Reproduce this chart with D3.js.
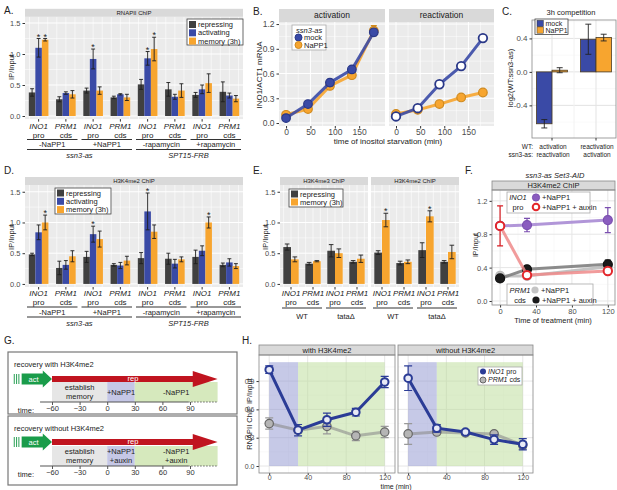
<!DOCTYPE html>
<html>
<head>
<meta charset="utf-8">
<script src="https://cdn.jsdelivr.net/npm/d3@7"></script>
<style>
  body { margin: 0; background: #fff; }
  text { font-family: "Liberation Sans", Arial, sans-serif; }
</style>
</head>
<body>
<script>
// ---------------- data ----------------
const genes = ["INO1", "PRM1", "INO1", "PRM1", "INO1", "PRM1", "INO1", "PRM1"];
const regions = ["pro", "cds", "pro", "cds", "pro", "cds", "pro", "cds"];
const seriesNames = ["repressing", "activating", "memory (3h)"];
const adConditions = ["-NaPP1", "+NaPP1", "-rapamycin", "+rapamycin"];
const adStrains = ["ssn3-as", "SPT15-FRB"];

// A. RNAPII ChIP
const aRep = [0.38, 0.27, 0.41, 0.30, 0.51, 0.43, 0.34, 0.39];
const aRepErr = [0.06, 0.04, 0.04, 0.02, 0.08, 0.11, 0.04, 0.16];
const aAct = [1.10, 0.37, 0.92, 0.35, 0.93, 0.31, 0.43, 0.33];
const aActErr = [0.15, 0.02, 0.16, 0.01, 0.11, 0.04, 0.07, 0.04];
const aMem = [1.23, 0.35, 0.41, 0.30, 1.08, 0.41, 0.53, 0.28];
const aMemErr = [0.02, 0.06, 0.06, 0.05, 0.19, 0.11, 0.15, 0.05];
const aActStar = [1, 0, 1, 0, 1, 0, 0, 0];
const aMemStar = [1, 0, 0, 0, 1, 0, 0, 0];

// B. INO1 mRNA
const bFacets = ["activation", "reactivation"];
const bTime = [0, 45, 90, 135, 180];
const bActMock = [0.06, 0.23, 0.49, 0.65, 1.10];
const bActMockErr = [0.01, 0.02, 0.04, 0.03, 0.04];
const bActNapp = [0.10, 0.17, 0.45, 0.58, 1.12];
const bActNappErr = [0.02, 0.02, 0.03, 0.02, 0.06];
const bReaMock = [0.08, 0.18, 0.47, 0.69, 1.03];
const bReaMockErr = [0.01, 0.02, 0.02, 0.02, 0.03];
const bReaNapp = [0.11, 0.16, 0.23, 0.31, 0.37];
const bReaNappErr = [0.01, 0.01, 0.02, 0.02, 0.02];

// C. 3h competition
const cWT = ["activation", "reactivation"];
const cSsn = ["reactivation", "activation"];
const cMock = [-0.62, 0.39];
const cMockErr = [0.05, 0.18];
const cNapp = [0.02, 0.41];
const cNappErr = [0.03, 0.04];

// D. H3K4me2 ChIP
const dRep = [0.48, 0.26, 0.44, 0.31, 0.42, 0.41, 0.44, 0.31];
const dRepErr = [0.02, 0.11, 0.09, 0.02, 0.09, 0.09, 0.11, 0.03];
const dAct = [0.84, 0.31, 0.81, 0.30, 1.18, 0.33, 0.54, 0.35];
const dActErr = [0.12, 0.07, 0.13, 0.05, 0.30, 0.07, 0.08, 0.06];
const dMem = [1.00, 0.45, 0.73, 0.38, 0.85, 0.40, 1.00, 0.29];
const dMemErr = [0.12, 0.09, 0.13, 0.07, 0.11, 0.04, 0.09, 0.04];
const dActStar = [0, 0, 1, 0, 1, 0, 0, 0];
const dMemStar = [1, 0, 0, 0, 0, 0, 1, 0];

// E. H3K4me3 / H3K4me2, WT vs tata
const eFacets = ["H3K4me3 ChIP", "H3K4me2 ChIP"];
const eStrains = ["WT", "tataΔ"];
const e3Rep = [0.60, 0.33, 0.54, 0.36];
const e3RepErr = [0.05, 0.02, 0.10, 0.02];
const e3Mem = [0.40, 0.37, 0.50, 0.41];
const e3MemErr = [0.04, 0.01, 0.07, 0.06];
const e2Rep = [0.51, 0.34, 0.55, 0.36];
const e2RepErr = [0.03, 0.03, 0.12, 0.02];
const e2Mem = [1.04, 0.36, 1.10, 0.52];
const e2MemErr = [0.11, 0.03, 0.09, 0.11];
const e2MemStar = [1, 0, 1, 0];

// F. Set3-AID
const fTime = [0, 30, 120];
const fInoNapp = [0.90, 0.91, 0.97];
const fInoNappErr = [0.02, 0.08, 0.15];
const fInoAux = [0.90, 0.31, 0.36];
const fInoAuxErr = [0.24, 0.02, 0.02];
const fPrmNapp = [0.30, 0.30, 0.41];
const fPrmNappErr = [0.02, 0.02, 0.03];
const fPrmAux = [0.27, 0.38, 0.44];
const fPrmAuxErr = [0.03, 0.02, 0.05];

// G. schematic
const gTicks = [-60, -30, 0, 30, 60, 90];
const gPhaseStart = [-60, 0, 30];
const gPhaseEnd = [0, 30, 120];
const gLabelsWith = [["establish", "memory"], ["+NaPP1"], ["-NaPP1"]];
const gLabelsWithout = [["establish", "memory"], ["+NaPP1", "+auxin"], ["-NaPP1", "+auxin"]];

// H. recovery
const hFacets = ["with H3K4me2", "without H3K4me2"];
const hTime = [0, 30, 60, 90, 120];
const hWithIno = [1.02, 0.38, 0.49, 0.57, 0.89];
const hWithInoErr = [0.04, 0.06, 0.07, 0.04, 0.06];
const hWithPrm = [0.45, 0.38, 0.42, 0.32, 0.36];
const hWithPrmErr = [0.06, 0.03, 0.08, 0.05, 0.06];
const hWithoutIno = [0.93, 0.40, 0.36, 0.28, 0.23];
const hWithoutInoErr = [0.13, 0.04, 0.02, 0.05, 0.06];
const hWithoutPrm = [0.34, 0.36, 0.35, 0.34, 0.22];
const hWithoutPrmErr = [0.11, 0.02, 0.02, 0.02, 0.04];

// ---------------- setup ----------------
const DARK = "#404040", BLUE = "#3a4aa6", ORANGE = "#f7a52f";
const svg = d3.select("body").append("svg").attr("width", 617).attr("height", 490);

function t(g, x, y, s, o = {}) {
  return g.append("text").attr("x", x).attr("y", y).attr("dy", "0.35em")
    .attr("text-anchor", o.anchor || "middle")
    .attr("font-size", o.size || 8)
    .attr("fill", o.fill || "#222")
    .attr("font-style", o.italic ? "italic" : null)
    .attr("transform", o.rotate ? `rotate(-90,${x},${y})` : null)
    .text(s);
}

function styleAxis(ax, size) {
  ax.select(".domain").remove();
  ax.selectAll("line").attr("stroke", "#333");
  ax.selectAll("text").attr("font-size", size || 7.5).attr("fill", "#4d4d4d")
    .attr("font-family", "Liberation Sans, Arial, sans-serif");
}

// grouped bar panel (grey ggplot theme)
function barPanel(p) {
  const g = svg.append("g");
  const x = d3.scaleBand().domain(d3.range(p.n)).range(p.xr);
  const y = d3.scaleLinear().domain(p.yd).range(p.yr);
  const top = p.yr[1], bot = p.yr[0], step = x.step();
  g.append("rect").attr("x", p.xr[0]).attr("y", top).attr("width", p.xr[1] - p.xr[0])
    .attr("height", bot - top).attr("fill", "#ebebeb");
  g.selectAll(null).data(p.minor).join("line")
    .attr("x1", p.xr[0]).attr("x2", p.xr[1]).attr("y1", y).attr("y2", y)
    .attr("stroke", "#fff").attr("stroke-width", 0.5);
  g.selectAll(null).data(p.major).join("line")
    .attr("x1", p.xr[0]).attr("x2", p.xr[1]).attr("y1", y).attr("y2", y)
    .attr("stroke", "#fff").attr("stroke-width", 1);
  g.selectAll(null).data(d3.range(p.n * 3)).join("line")
    .attr("x1", k => p.xr[0] + (k + 0.5) * step / 3).attr("x2", k => p.xr[0] + (k + 0.5) * step / 3)
    .attr("y1", top).attr("y2", bot).attr("stroke", "#fff").attr("stroke-width", 0.6);
  // strip
  g.append("rect").attr("x", p.xr[0]).attr("y", top - p.stripH).attr("width", p.xr[1] - p.xr[0])
    .attr("height", p.stripH).attr("fill", "#d9d9d9");
  t(g, (p.xr[0] + p.xr[1]) / 2, top - p.stripH / 2, p.strip, { size: p.stripSize || 6, fill: "#1a1a1a" });

  const gw = step * p.gw;
  const sub = d3.scaleBand().domain(d3.range(p.series.length)).range([-gw / 2, gw / 2]);
  const bw = sub.bandwidth();
  p.series.forEach((s, si) => {
    const cx = i => x(i) + step / 2 + sub(si) + bw / 2;
    g.selectAll(null).data(s.vals).join("rect")
      .attr("x", (d, i) => cx(i) - bw / 2).attr("width", bw)
      .attr("y", d => y(d)).attr("height", d => y(0) - y(d)).attr("fill", s.color);
    const eb = g.selectAll(null).data(s.vals).join("g");
    eb.append("line").attr("x1", (d, i) => cx(i)).attr("x2", (d, i) => cx(i))
      .attr("y1", (d, i) => y(d - s.errs[i])).attr("y2", (d, i) => y(d + s.errs[i]));
    eb.append("line").attr("x1", (d, i) => cx(i) - bw * 0.3).attr("x2", (d, i) => cx(i) + bw * 0.3)
      .attr("y1", (d, i) => y(d - s.errs[i])).attr("y2", (d, i) => y(d - s.errs[i]));
    eb.append("line").attr("x1", (d, i) => cx(i) - bw * 0.3).attr("x2", (d, i) => cx(i) + bw * 0.3)
      .attr("y1", (d, i) => y(d + s.errs[i])).attr("y2", (d, i) => y(d + s.errs[i]));
    eb.selectAll("line").attr("stroke", "#1e1e1e").attr("stroke-width", 0.9);
    if (s.stars) {
      const starIdx = d3.range(s.vals.length).filter(i => s.stars[i]);
      g.selectAll(null).data(starIdx).join("text")
        .attr("x", i => cx(i)).attr("y", i => y(s.vals[i] + s.errs[i]) + 1)
        .attr("text-anchor", "middle").attr("font-size", 9).attr("fill", "#222").text("*");
    }
  });
  if (p.yaxis) {
    const ax = g.append("g").attr("transform", `translate(${p.xr[0]},0)`)
      .call(d3.axisLeft(y).tickValues(p.major).tickFormat(d => d.toFixed(1)).tickSize(2.5).tickPadding(2));
    styleAxis(ax, 7.5);
  }
  // x tick marks + gene / region labels
  g.selectAll(null).data(d3.range(p.n)).join("line")
    .attr("x1", i => x(i) + step / 2).attr("x2", i => x(i) + step / 2)
    .attr("y1", bot).attr("y2", bot + 2.5).attr("stroke", "#333");
  p.genes.forEach((gn, i) => {
    t(g, x(i) + step / 2, p.labY, gn, { italic: true, size: 8 });
    t(g, x(i) + step / 2, p.labY + 9.5, p.regions[i], { size: 8 });
  });
  return { g, x, step };
}

function groupLine(g, xa, xb, yLine, yText, label, italic) {
  g.append("line").attr("x1", xa).attr("x2", xb).attr("y1", yLine).attr("y2", yLine)
    .attr("stroke", "#333").attr("stroke-width", 1);
  t(g, (xa + xb) / 2, yText, label, { italic, size: 7.5 });
}

function adLabels(res, base) {
  const { g, x, step } = res;
  adConditions.forEach((c, k) => {
    groupLine(g, x(2 * k) + 2, x(2 * k + 1) + step - 2, base, base + 5, c, false);
  });
  adStrains.forEach((s, k) => {
    groupLine(g, x(4 * k) + 2, x(4 * k + 3) + step - 2, base + 10, base + 16, s, true);
  });
}

function legendBox(g, x, y, w, h, stroke) {
  g.append("rect").attr("x", x).attr("y", y).attr("width", w).attr("height", h)
    .attr("fill", "#fff").attr("stroke", stroke || "#555").attr("stroke-width", 0.8);
}

// ---------------- A ----------------
t(svg, 4, 10, "A.", { anchor: "start", size: 10 });
const resA = barPanel({
  n: 8, xr: [25, 243], yd: [-0.05, 1.6], yr: [119.1, 16.8],
  major: [0, 0.5, 1, 1.5], minor: [0.25, 0.75, 1.25], stripH: 8, strip: "RNAPII ChIP",
  gw: 0.72, yaxis: true, labY: 126, genes, regions,
  series: [
    { vals: aRep, errs: aRepErr, color: DARK },
    { vals: aAct, errs: aActErr, color: BLUE, stars: aActStar },
    { vals: aMem, errs: aMemErr, color: ORANGE, stars: aMemStar }
  ]
});
adLabels(resA, 139.5);
t(svg, 11, 67, "IP/Input", { rotate: true, size: 7.5 });
{
  const g = svg.append("g");
  legendBox(g, 187, 19, 56, 26, "#444");
  seriesNames.forEach((s, i) => {
    g.append("rect").attr("x", 189).attr("y", 21 + i * 8.3).attr("width", 7).attr("height", 7)
      .attr("fill", [DARK, BLUE, ORANGE][i]);
    t(g, 198, 24.5 + i * 8.3, s, { anchor: "start", size: 7.5 });
  });
}

// ---------------- B ----------------
function linePanel(p) {
  const g = svg.append("g");
  const x = d3.scaleLinear().domain(p.xd).range(p.xr);
  const y = d3.scaleLinear().domain(p.yd).range(p.yr);
  const grey = p.theme === "grey";
  const top = p.yr[1], bot = p.yr[0];
  g.append("rect").attr("x", p.xr[0]).attr("y", top).attr("width", p.xr[1] - p.xr[0])
    .attr("height", bot - top).attr("fill", grey ? "#ebebeb" : "#fff");
  const gc = grey ? "#fff" : "#e6e6e6", gm = grey ? "#fff" : "#f2f2f2";
  g.selectAll(null).data(p.yMinor).join("line").attr("x1", p.xr[0]).attr("x2", p.xr[1])
    .attr("y1", y).attr("y2", y).attr("stroke", gm).attr("stroke-width", 0.5);
  g.selectAll(null).data(p.xMinor).join("line").attr("y1", top).attr("y2", bot)
    .attr("x1", x).attr("x2", x).attr("stroke", gm).attr("stroke-width", 0.5);
  g.selectAll(null).data(p.yMajor).join("line").attr("x1", p.xr[0]).attr("x2", p.xr[1])
    .attr("y1", y).attr("y2", y).attr("stroke", gc).attr("stroke-width", 1);
  g.selectAll(null).data(p.xMajor).join("line").attr("y1", top).attr("y2", bot)
    .attr("x1", x).attr("x2", x).attr("stroke", gc).attr("stroke-width", 1);
  if (p.strip) {
    g.append("rect").attr("x", p.xr[0]).attr("y", top - p.stripH).attr("width", p.xr[1] - p.xr[0])
      .attr("height", p.stripH).attr("fill", "#d9d9d9")
      .attr("stroke", grey ? "none" : "#888").attr("stroke-width", 0.8);
    t(g, (p.xr[0] + p.xr[1]) / 2, top - p.stripH / 2, p.strip, { size: p.stripSize || 8, fill: "#1a1a1a" });
  }
  const ax = g.append("g").attr("transform", `translate(0,${bot})`)
    .call(d3.axisBottom(x).tickValues(p.xMajor).tickSize(p.xTick || 2.5).tickPadding(p.xPad == null ? 1.5 : p.xPad));
  styleAxis(ax, p.tickSize || 8);
  if (p.yaxis) {
    const ay = g.append("g").attr("transform", `translate(${p.xr[0]},0)`)
      .call(d3.axisLeft(y).tickValues(p.yMajor).tickFormat(d => d.toFixed(1)).tickSize(2.5).tickPadding(2));
    styleAxis(ay, p.tickSize || 8);
  }
  const layer = g.append("g");
  if (!grey) {
    g.append("rect").attr("x", p.xr[0]).attr("y", top).attr("width", p.xr[1] - p.xr[0])
      .attr("height", bot - top).attr("fill", "none").attr("stroke", "#888").attr("stroke-width", 0.8);
  }
  return { g: layer, x, y };
}

function drawSeries(P, xs, ys, es, s) {
  const { g, x, y } = P;
  const pts = xs.map((d, i) => [x(d), y(ys[i])]);
  g.append("path").attr("d", d3.line()(pts)).attr("fill", "none")
    .attr("stroke", s.line).attr("stroke-width", s.lw || 3).attr("stroke-opacity", s.lo || 1)
    .attr("stroke-linejoin", "round");
  const cw = s.cap || 3;
  xs.forEach((d, i) => {
    const xa = x(d), y1 = y(ys[i] - es[i]), y2 = y(ys[i] + es[i]);
    g.append("path").attr("d", `M${xa},${y1}V${y2}M${xa - cw},${y1}H${xa + cw}M${xa - cw},${y2}H${xa + cw}`)
      .attr("stroke", s.err || s.stroke).attr("stroke-width", 1.2).attr("fill", "none");
  });
  g.selectAll(null).data(pts).join("circle").attr("cx", d => d[0]).attr("cy", d => d[1])
    .attr("r", s.r || 4).attr("fill", s.fill).attr("stroke", s.stroke).attr("stroke-width", s.sw || 1.2);
}

t(svg, 253, 11, "B.", { anchor: "start", size: 10 });
const bX = [[279, 385], [389, 494]];
const bData = [[bActMock, bActMockErr, bActNapp, bActNappErr], [bReaMock, bReaMockErr, bReaNapp, bReaNappErr]];
bFacets.forEach((f, k) => {
  const P = linePanel({
    theme: "grey", xr: bX[k], yr: [126, 22], xd: [-14.5, 203], yd: [-0.036, 1.225],
    xMajor: [0, 50, 100, 150], xMinor: [25, 75, 125, 175],
    yMajor: [0, 0.3, 0.6, 0.9, 1.2], yMinor: [0.15, 0.45, 0.75, 1.05],
    strip: f, stripH: 13, stripSize: 8.5, yaxis: k === 0, tickSize: 8.5, xPad: 0.5
  });
  const [m, me, n, ne] = bData[k];
  drawSeries(P, bTime, n, ne, { line: ORANGE, stroke: "#d08a1e", fill: ORANGE, lo: 0.9, r: 4.3 });
  drawSeries(P, bTime, m, me, { line: BLUE, stroke: "#2a3888", fill: k === 0 ? BLUE : "#fff", lo: 0.9, sw: k === 0 ? 1.2 : 1.8, r: 4.3 });
});
t(svg, 259, 75, "INO1/ACT1 mRNA", { rotate: true, size: 8 });
t(svg, 388, 141.5, "time of inositol starvation (min)", { size: 8 });
{
  const g = svg.append("g");
  legendBox(g, 292, 25, 34, 25, "#aaa");
  t(g, 296, 30, "ssn3-as", { anchor: "start", italic: true, size: 7.5 });
  [[BLUE, "#2a3888", "mock"], [ORANGE, "#d08a1e", "NaPP1"]].forEach((d, i) => {
    g.append("circle").attr("cx", 298.5).attr("cy", 37.5 + i * 7.5).attr("r", 3.5)
      .attr("fill", d[0]).attr("stroke", d[1]);
    t(g, 304, 37.5 + i * 7.5, d[2], { anchor: "start", size: 7.5 });
  });
}

// ---------------- C ----------------
t(svg, 502, 11, "C.", { anchor: "start", size: 10 });
{
  const g = svg.append("g");
  const x = d3.scaleBand().domain([0, 1]).range([530, 618]);
  const y = d3.scaleLinear().domain([-0.79, 0.62]).range([138, 20]);
  const xl = 532, xr = 616, yt = 20;
  g.append("rect").attr("x", xl).attr("y", yt).attr("width", xr - xl).attr("height", 138 - yt).attr("fill", "#fff");
  [-0.6, -0.2, 0.2, 0.6].forEach(v => g.append("line").attr("x1", xl).attr("x2", xr)
    .attr("y1", y(v)).attr("y2", y(v)).attr("stroke", "#f2f2f2").attr("stroke-width", 0.5));
  [-0.4, 0, 0.4].forEach(v => g.append("line").attr("x1", xl).attr("x2", xr)
    .attr("y1", y(v)).attr("y2", y(v)).attr("stroke", "#e3e3e3"));
  [0, 1].forEach(i => g.append("line").attr("x1", x(i) + x.step() / 2).attr("x2", x(i) + x.step() / 2)
    .attr("y1", yt).attr("y2", 138).attr("stroke", "#e3e3e3"));
  g.append("line").attr("x1", x(1)).attr("x2", x(1)).attr("y1", yt).attr("y2", 138).attr("stroke", "#f2f2f2");
  const gw = x.step() * 0.7;
  const sub = d3.scaleBand().domain([0, 1]).range([-gw / 2, gw / 2]);
  const bw = sub.bandwidth();
  [[cMock, cMockErr, BLUE], [cNapp, cNappErr, ORANGE]].forEach(([vals, errs, col], si) => {
    const cx = i => x(i) + x.step() / 2 + sub(si) + bw / 2;
    g.selectAll(null).data(vals).join("rect")
      .attr("x", (d, i) => cx(i) - bw / 2).attr("width", bw)
      .attr("y", d => y(Math.max(0, d))).attr("height", d => Math.abs(y(d) - y(0)))
      .attr("fill", col).attr("stroke", "#4a3a20").attr("stroke-width", 0.8);
    vals.forEach((d, i) => {
      const y1 = y(d - errs[i]), y2 = y(d + errs[i]), c = cx(i);
      g.append("path").attr("d", `M${c},${y1}V${y2}M${c - 3},${y1}H${c + 3}M${c - 3},${y2}H${c + 3}`)
        .attr("stroke", "#222").attr("stroke-width", 0.9).attr("fill", "none");
    });
  });
  g.append("rect").attr("x", xl).attr("y", yt).attr("width", xr - xl).attr("height", 138 - yt)
    .attr("fill", "none").attr("stroke", "#888").attr("stroke-width", 0.8);
  const ay = g.append("g").attr("transform", `translate(${xl},0)`)
    .call(d3.axisLeft(y).tickValues([-0.4, 0, 0.4]).tickFormat(d => d.toFixed(1)).tickSize(2.5).tickPadding(2));
  styleAxis(ay, 8);
  [0, 1].forEach(i => {
    const c = x(i) + x.step() / 2;
    g.append("line").attr("x1", c).attr("x2", c).attr("y1", 138).attr("y2", 140.5).attr("stroke", "#333");
    t(g, c + 1, 146.5, cWT[i], { size: 6.5 });
    t(g, c + 1, 155, cSsn[i], { size: 6.5 });
  });
  t(g, 533, 146.5, "WT:", { anchor: "end", size: 6.5 });
  t(g, 533, 155, "ssn3-as:", { anchor: "end", size: 6.5 });
  t(g, 571, 12, "3h competition", { size: 7.5 });
  t(g, 510, 78, "log2(WT:ssn3-as)", { rotate: true, size: 7.5 });
  legendBox(g, 535, 19, 33, 15.5, "#444");
  [[BLUE, "mock"], [ORANGE, "NaPP1"]].forEach((d, i) => {
    g.append("rect").attr("x", 537).attr("y", 20.3 + i * 6.6).attr("width", 6.3).attr("height", 6.3)
      .attr("fill", d[0]).attr("stroke", "#333").attr("stroke-width", 0.5);
    t(g, 545.5, 23.5 + i * 6.6, d[1], { anchor: "start", size: 7 });
  });
}

// ---------------- D ----------------
t(svg, 4, 170, "D.", { anchor: "start", size: 10 });
const resD = barPanel({
  n: 8, xr: [25, 243], yd: [-0.05, 1.61], yr: [287, 185],
  major: [0, 0.5, 1, 1.5], minor: [0.25, 0.75, 1.25], stripH: 8, strip: "H3K4me2 ChIP",
  gw: 0.72, yaxis: true, labY: 293, genes, regions,
  series: [
    { vals: dRep, errs: dRepErr, color: DARK },
    { vals: dAct, errs: dActErr, color: BLUE, stars: dActStar },
    { vals: dMem, errs: dMemErr, color: ORANGE, stars: dMemStar }
  ]
});
adLabels(resD, 307);
t(svg, 11, 237, "IP/Input", { rotate: true, size: 7.5 });
{
  const g = svg.append("g");
  legendBox(g, 55, 188, 56, 26, "#444");
  seriesNames.forEach((s, i) => {
    g.append("rect").attr("x", 57).attr("y", 189.5 + i * 8.3).attr("width", 7).attr("height", 7)
      .attr("fill", [DARK, BLUE, ORANGE][i]);
    t(g, 66, 193 + i * 8.3, s, { anchor: "start", size: 7.5 });
  });
}

// ---------------- E ----------------
t(svg, 253, 170, "E.", { anchor: "start", size: 10 });
const eX = [[280, 368], [371, 459]];
const eData = [[e3Rep, e3RepErr, e3Mem, e3MemErr, null], [e2Rep, e2RepErr, e2Mem, e2MemErr, e2MemStar]];
eFacets.forEach((f, k) => {
  const [r, re, m, me, ms] = eData[k];
  const res = barPanel({
    n: 4, xr: eX[k], yd: [-0.05, 1.61], yr: [287, 185],
    major: [0, 0.5, 1, 1.5], minor: [0.25, 0.75, 1.25], stripH: 8, strip: f,
    gw: 0.7, yaxis: k === 0, labY: 293, genes: genes.slice(0, 4), regions: regions.slice(0, 4),
    series: [
      { vals: r, errs: re, color: DARK },
      { vals: m, errs: me, color: ORANGE, stars: ms }
    ]
  });
  eStrains.forEach((s, j) => {
    groupLine(res.g, res.x(2 * j) + 2, res.x(2 * j + 1) + res.step - 2, 308, 316, s, false);
  });
});
t(svg, 265, 237, "IP/Input", { rotate: true, size: 7.5 });
{
  const g = svg.append("g");
  legendBox(g, 289, 189, 54, 18, "#444");
  [[DARK, "repressing"], [ORANGE, "memory (3h)"]].forEach((d, i) => {
    g.append("rect").attr("x", 291).attr("y", 190.5 + i * 8).attr("width", 7).attr("height", 7).attr("fill", d[0]);
    t(g, 300, 194 + i * 8, d[1], { anchor: "start", size: 7.5 });
  });
}

// ---------------- F ----------------
t(svg, 465, 170, "F.", { anchor: "start", size: 10 });
t(svg, 555, 175, "ssn3-as Set3-AID", { italic: true, size: 7.5 });
{
  const P = linePanel({
    theme: "white", xr: [492, 615], yr: [305, 190], xd: [-9, 128], yd: [-0.048, 1.33],
    xMajor: [0, 40, 80, 120], xMinor: [20, 60, 100],
    yMajor: [0, 0.4, 0.8, 1.2], yMinor: [0.2, 0.6, 1.0],
    strip: "H3K4me2 ChIP", stripH: 9, stripSize: 7.5, yaxis: true, tickSize: 7.5
  });
  drawSeries(P, fTime, fPrmNapp, fPrmNappErr, { line: "#bdbdbd", stroke: "#bbb", fill: "#c4c4c4", r: 4.5, lo: 0.9 });
  drawSeries(P, fTime, fPrmAux, fPrmAuxErr, { line: "#808080", stroke: "#111", fill: "#1a1a1a", r: 4.5, lo: 0.9 });
  drawSeries(P, fTime, fInoNapp, fInoNappErr, { line: "#a98bd4", stroke: "#7b4fb0", fill: "#8a5cbf", r: 4.5, lo: 0.9 });
  drawSeries(P, fTime, fInoAux, fInoAuxErr, { line: "#ee8a8a", stroke: "#e3262b", fill: "#fff", err: "#d81e24", r: 4.2, sw: 2, lo: 0.85 });
}
t(svg, 476, 245, "IP/Input", { rotate: true, size: 7 });
t(svg, 553, 320, "Time of treatment (min)", { size: 7.5 });
{
  const g = svg.append("g");
  legendBox(g, 507, 192, 83, 21, "#aaa");
  t(g, 518, 197.5, "INO1", { italic: true, size: 7.5 });
  t(g, 518, 207, "pro", { size: 7.5 });
  g.append("circle").attr("cx", 536).attr("cy", 197.5).attr("r", 3.6).attr("fill", "#8a5cbf").attr("stroke", "#7b4fb0");
  g.append("circle").attr("cx", 536).attr("cy", 207).attr("r", 3.3).attr("fill", "#fff").attr("stroke", "#e3262b").attr("stroke-width", 2);
  t(g, 542, 197.5, "+NaPP1", { anchor: "start", size: 7.5 });
  t(g, 542, 207, "+NaPP1 + auxin", { anchor: "start", size: 7.5 });
  legendBox(g, 507, 284, 86, 21, "#aaa");
  t(g, 520, 290, "PRM1", { italic: true, size: 7.5 });
  t(g, 520, 300, "cds", { size: 7.5 });
  g.append("circle").attr("cx", 535).attr("cy", 290).attr("r", 3.6).attr("fill", "#c4c4c4");
  g.append("circle").attr("cx", 536).attr("cy", 300).attr("r", 3.6).attr("fill", "#1a1a1a");
  t(g, 541, 290, "+NaPP1", { anchor: "start", size: 7.5 });
  t(g, 542, 300, "+NaPP1 + auxin", { anchor: "start", size: 7.5 });
}

// ---------------- G ----------------
t(svg, 4, 340, "G.", { anchor: "start", size: 10 });
{
  const gx = d3.scaleLinear().domain([-60, 90]).range([52, 190]);
  const boxes = [
    { top: 352, bottom: 414, title: "recovery with H3K4me2", arrowY: 379, rectTop: 382, labels: gLabelsWith },
    { top: 416, bottom: 485, title: "recovery without H3K4me2", arrowY: 442, rectTop: 446, labels: gLabelsWithout }
  ];
  const phaseColors = ["#e6e6e6", "#c5c7e6", "#d6e9bd"];
  boxes.forEach(b => {
    const g = svg.append("g");
    const axisY = b.rectTop + 20;
    g.append("rect").attr("x", 8).attr("y", b.top).attr("width", 229).attr("height", b.bottom - b.top)
      .attr("fill", "#fff").attr("stroke", "#777").attr("stroke-width", 1.2);
    t(g, 14, b.top + 12, b.title, { anchor: "start", size: 7.5 });
    gPhaseStart.forEach((s, i) => {
      g.append("rect").attr("x", gx(s)).attr("y", b.rectTop).attr("width", gx(gPhaseEnd[i]) - gx(s))
        .attr("height", axisY - b.rectTop).attr("fill", phaseColors[i]);
      const lab = b.labels[i];
      const cx = (gx(s) + gx(gPhaseEnd[i])) / 2;
      lab.forEach((l, j) => t(g, cx, b.rectTop + 10 - (lab.length - 1) * 4.3 + j * 8.6, l, { size: 7.5 }));
    });
    // act arrow with dashes
    const ay = b.arrowY;
    [-101, -98.5, -96].forEach(v => g.append("line").attr("x1", gx(v)).attr("x2", gx(v))
      .attr("y1", ay - 5).attr("y2", ay + 5).attr("stroke", "#2aa155").attr("stroke-width", 1));
    g.append("path").attr("d", `M${gx(-93)},${ay - 5.5}H${gx(-70)}V${ay - 8.5}L${gx(-60)},${ay}L${gx(-70)},${ay + 8.5}V${ay + 5.5}H${gx(-93)}Z`)
      .attr("fill", "#1a9c4a");
    t(g, gx(-80), ay, "act", { size: 7.5, fill: "#fff" });
    // rep arrow
    g.append("path").attr("d", `M${gx(-60)},${ay - 3}H${gx(93)}V${ay - 8}L${gx(120)},${ay}L${gx(93)},${ay + 8}V${ay + 3}H${gx(-60)}Z`)
      .attr("fill", "#c0141f");
    t(g, gx(28), ay - 0.5, "rep", { size: 7.5, fill: "#fff" });
    // time axis
    g.append("line").attr("x1", gx(-73)).attr("x2", gx(88)).attr("y1", axisY).attr("y2", axisY)
      .attr("stroke", "#555").attr("stroke-width", 1.2);
    g.append("line").attr("x1", gx(88)).attr("x2", gx(120)).attr("y1", axisY).attr("y2", axisY)
      .attr("stroke", "#666").attr("stroke-width", 1.2).attr("stroke-dasharray", "1.5,1.5");
    const ax = g.append("g").attr("transform", `translate(0,${axisY})`)
      .call(d3.axisBottom(gx).tickValues(gTicks).tickSize(3).tickPadding(1));
    ax.select(".domain").remove();
    ax.selectAll("line").attr("stroke", "#555");
    ax.selectAll("text").attr("font-size", 7.5).attr("fill", "#333");
    t(g, 26, axisY + 8, "time:", { size: 7.5 });
  });
}

// ---------------- H ----------------
t(svg, 242, 340, "H.", { anchor: "start", size: 10 });
{
  const hX = [[259, 395], [398, 533]];
  const hData = [[hWithIno, hWithInoErr, hWithPrm, hWithPrmErr], [hWithoutIno, hWithoutInoErr, hWithoutPrm, hWithoutPrmErr]];
  hFacets.forEach((f, k) => {
    const P = linePanel({
      theme: "white", xr: hX[k], yr: [473, 355], xd: [-10.6, 130.7], yd: [-0.074, 1.176],
      xMajor: [0, 40, 80, 120], xMinor: [20, 60, 100],
      yMajor: [0, 0.3, 0.6, 0.9], yMinor: [0.15, 0.45, 0.75, 1.05],
      strip: f, stripH: 10, stripSize: 7.5, yaxis: k === 0, tickSize: 7, xPad: 0, xTick: 2
    });
    const { g, x, y } = P;
    g.append("rect").attr("x", x(0)).attr("y", y(1.1)).attr("width", x(30) - x(0)).attr("height", y(0) - y(1.1))
      .attr("fill", "#8e93d0").attr("opacity", 0.5);
    g.append("rect").attr("x", x(30)).attr("y", y(1.1)).attr("width", x(120) - x(30)).attr("height", y(0) - y(1.1))
      .attr("fill", "#b9dc96").attr("opacity", 0.5);
    const [ino, inoE, prm, prmE] = hData[k];
    drawSeries(P, hTime, prm, prmE, { line: "#8c8c8c", stroke: "#666", fill: "#b5b5b5", err: "#999", lo: 0.6, r: 4.2, cap: 4 });
    drawSeries(P, hTime, ino, inoE, { line: "#2b3c96", stroke: "#2b3c96", fill: "#e8eaf6", r: 3.8, sw: 2, cap: 4 });
  });
  t(svg, 249, 414, "RNAPII ChIP IP/Input", { rotate: true, size: 7.5 });
  t(svg, 396, 486.5, "time (min)", { size: 7 });
  const g = svg.append("g");
  legendBox(g, 478, 367, 44, 18, "#aaa");
  g.append("circle").attr("cx", 483).attr("cy", 371.5).attr("r", 3).attr("fill", "#2b3c96");
  g.append("circle").attr("cx", 483).attr("cy", 380).attr("r", 3).attr("fill", "#b5b5b5").attr("stroke", "#666");
  const t1 = t(g, 488, 371.5, "", { anchor: "start", size: 7 });
  t1.append("tspan").attr("font-style", "italic").text("INO1");
  t1.append("tspan").text(" pro");
  const t2 = t(g, 488, 380, "", { anchor: "start", size: 7 });
  t2.append("tspan").attr("font-style", "italic").text("PRM1");
  t2.append("tspan").text(" cds");
}
</script>
</body>
</html>
